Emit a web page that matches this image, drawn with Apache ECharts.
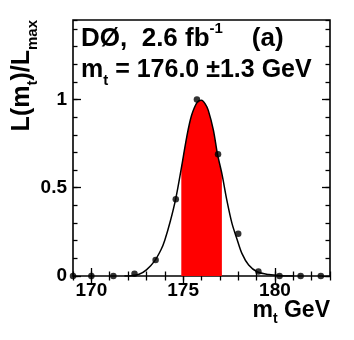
<!DOCTYPE html>
<html>
<head>
<meta charset="utf-8">
<script src="https://cdn.jsdelivr.net/npm/echarts@6/dist/echarts.min.js"></script>
<style>
  html, body { margin: 0; padding: 0; background: #fff; }
  #chart { width: 354px; height: 340px; }
</style>
</head>
<body>
<div id="chart"></div>
<script>
// axis ranges and labelled ticks
const massRange = [169, 183];
const likeRange = [0, 1.45];
const massMajor = [170, 175, 180];
const likeMajor = [0, 0.5, 1];

// measured points
const pointMass = [169.0, 170.0, 171.2, 172.35, 173.5, 174.6, 175.75, 176.9, 178.0, 179.1, 180.25, 181.4, 182.5];
const pointLike = [0, 0, 0, 0.013, 0.09, 0.435, 1.0, 0.69, 0.24, 0.025, 0, 0, 0];

// fitted curve
const fitMass = [171.8, 172.2, 172.6, 173.0, 173.45, 173.8, 174.0, 174.3, 174.6, 174.9, 175.2, 175.46, 175.77, 176.0,
  176.2, 176.37, 176.65, 176.87, 177.11, 177.38, 177.66, 177.93, 178.2, 178.57, 179.03, 179.67, 180.3, 181.0];
const fitLike = [0, 0.002, 0.01, 0.035, 0.086, 0.15, 0.203, 0.31, 0.44, 0.61, 0.79, 0.91, 0.985, 0.995,
  0.975, 0.938, 0.825, 0.69, 0.58, 0.43, 0.298, 0.21, 0.128, 0.062, 0.024, 0.008, 0.002, 0];

// red band edges
const bandLo = 174.9;
const bandHi = 177.11;

const font = "'Liberation Sans', Arial, Helvetica, sans-serif";

const fit = fitMass.map((m, i) => [m, fitLike[i]]);
const band = fit.filter(p => p[0] >= bandLo && p[0] <= bandHi);
const points = pointMass.map((m, i) => [m, pointLike[i]]);

function xAxis(pos, major, labels) {
  return {
    type: 'value', position: pos, min: massRange[0], max: massRange[1],
    interval: major ? undefined : 1,
    axisLine: { show: false },
    splitLine: { show: false },
    axisTick: {
      inside: true, length: major ? 8 : 4.5,
      lineStyle: { color: '#000', width: 1.3 },
      customValues: major ? massMajor : undefined
    },
    axisLabel: labels ? {
      customValues: massMajor, margin: 5,
      color: '#000', fontFamily: font, fontWeight: 'bold', fontSize: 19
    } : { show: false }
  };
}

function yAxis(pos, major, labels) {
  return {
    type: 'value', position: pos, min: likeRange[0], max: likeRange[1],
    interval: major ? undefined : 0.1,
    axisLine: { show: false },
    splitLine: { show: false },
    axisTick: {
      inside: true, length: major ? 8 : 4.5,
      lineStyle: { color: '#000', width: 1.3 },
      customValues: major ? likeMajor : undefined
    },
    axisLabel: labels ? {
      customValues: likeMajor, margin: 6,
      formatter: v => String(v),
      color: '#000', fontFamily: font, fontWeight: 'bold', fontSize: 19
    } : { show: false }
  };
}

const big = { fontFamily: font, fontWeight: 'bold', fontSize: 25, lineHeight: 36, verticalAlign: 'middle', fill: '#000' };
const big1 = { fontFamily: font, fontWeight: 'bold', fontSize: 26, lineHeight: 36, verticalAlign: 'middle', fill: '#000' };
const sub = { fontFamily: font, fontWeight: 'bold', fontSize: 15, lineHeight: 15, verticalAlign: 'bottom', fill: '#000' };
const sup = { fontFamily: font, fontWeight: 'bold', fontSize: 15, lineHeight: 15, verticalAlign: 'top', fill: '#000' };

const chart = echarts.init(document.getElementById('chart'), null, { renderer: 'canvas' });

chart.setOption({
  animation: false,
  grid: {
    left: 73, right: 24, top: 20, bottom: 64,
    show: true, borderColor: '#000', borderWidth: 1.6, backgroundColor: 'transparent'
  },
  xAxis: [
    xAxis('bottom', false, false),
    xAxis('bottom', true, true),
    xAxis('top', false, false),
    xAxis('top', true, false)
  ],
  yAxis: [
    yAxis('left', false, false),
    yAxis('left', true, true),
    yAxis('right', false, false),
    yAxis('right', true, false)
  ],
  series: [
    {
      type: 'line', data: band, smooth: 0.3, symbol: 'none',
      lineStyle: { width: 0 },
      areaStyle: { color: '#ff0000', opacity: 1 },
      z: 1
    },
    {
      type: 'line', data: fit, smooth: 0.3, symbol: 'none',
      lineStyle: { color: '#000', width: 1.5 },
      z: 2
    },
    {
      type: 'scatter', data: points, symbol: 'circle', symbolSize: 6.5,
      itemStyle: { color: '#000' },
      z: 3
    }
  ],
  graphic: [
    {
      type: 'text', x: 81, y: 21.3,
      style: { text: '{a|DØ,  2.6 fb}{s|-1}{a|    (a)}', rich: { a: big1, s: sup } }
    },
    {
      type: 'text', x: 81, y: 52.3,
      style: { text: '{a|m}{b|t}{a| = 176.0 ±1.3 GeV}', rich: { a: big, b: sub } }
    },
    {
      type: 'text', x: 4.5, y: 20, rotation: Math.PI / 2,
      style: { text: '{a|L(m}{b|t}{a|)/L}{b|max}', align: 'right', verticalAlign: 'top', rich: { a: big, b: sub } }
    },
    {
      type: 'text', x: 330, y: 294.5,
      style: {
        text: '{a|m}{b|t}{a| GeV}', align: 'right', verticalAlign: 'top',
        rich: {
          a: { fontFamily: font, fontWeight: 'bold', fontSize: 23, lineHeight: 32, verticalAlign: 'middle', fill: '#000' },
          b: { fontFamily: font, fontWeight: 'bold', fontSize: 14, lineHeight: 14, verticalAlign: 'bottom', fill: '#000' }
        }
      }
    }
  ]
});
</script>
</body>
</html>
